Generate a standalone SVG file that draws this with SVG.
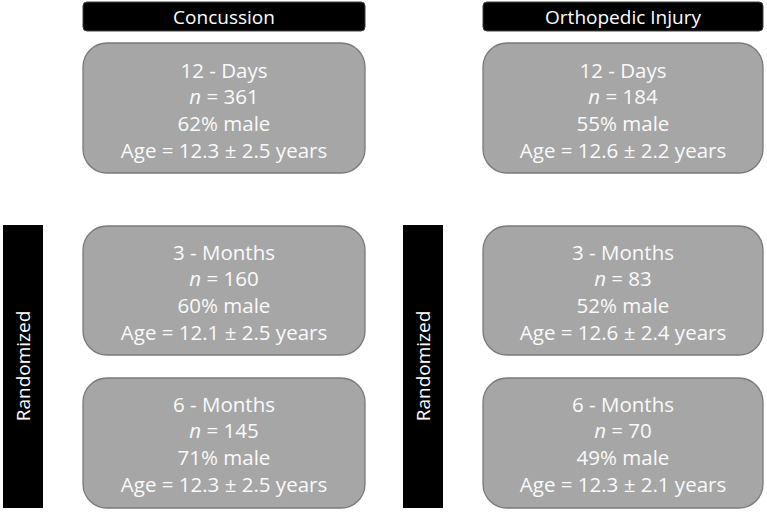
<svg xmlns="http://www.w3.org/2000/svg" width="767" height="512" viewBox="0 0 767 512">
<style>
.hdr{fill:#000;stroke:#404040;stroke-width:1}
.box{fill:#A6A6A6;stroke:#7A7A7A;stroke-width:1.3}
.bar{fill:#000}
text{font-family:"Open Sans","Liberation Sans",sans-serif;fill:#FAFAFA;text-anchor:middle;font-size:20.5px}
.ht{fill:#fff;font-size:19px}
</style>
<rect width="767" height="512" fill="#fff"/>
<g id="hdr-concussion"><rect class="hdr" x="83" y="2" width="282" height="29" rx="4"/><text class="ht" x="224" y="24">Concussion</text></g>
<g id="hdr-ortho"><rect class="hdr" x="483" y="2" width="280" height="29" rx="4"/><text class="ht" x="623" y="24">Orthopedic Injury</text></g>
<g id="rand-left"><rect class="bar" x="3" y="225" width="40" height="283"/><text class="ht" transform="translate(30,366) rotate(-90)">Randomized</text></g>
<g id="rand-right"><rect class="bar" x="403" y="225" width="40" height="283"/><text class="ht" transform="translate(430,366) rotate(-90)">Randomized</text></g>
<g id="c12"><rect class="box" x="83" y="43" width="282" height="130" rx="24"/>
<text x="224" y="78">12 - Days</text><text x="224" y="104"><tspan font-style="italic">n</tspan> = 361</text><text x="224" y="131">62% male</text><text x="224" y="158">Age = 12.3 ± 2.5 years</text></g>
<g id="o12"><rect class="box" x="483" y="43" width="280" height="130" rx="24"/>
<text x="623" y="78">12 - Days</text><text x="623" y="104"><tspan font-style="italic">n</tspan> = 184</text><text x="623" y="131">55% male</text><text x="623" y="158">Age = 12.6 ± 2.2 years</text></g>
<g id="c3"><rect class="box" x="83" y="226" width="282" height="129" rx="24"/>
<text x="224" y="260">3 - Months</text><text x="224" y="286"><tspan font-style="italic">n</tspan> = 160</text><text x="224" y="313">60% male</text><text x="224" y="340">Age = 12.1 ± 2.5 years</text></g>
<g id="o3"><rect class="box" x="483" y="226" width="280" height="129" rx="24"/>
<text x="623" y="260">3 - Months</text><text x="623" y="286"><tspan font-style="italic">n</tspan> = 83</text><text x="623" y="313">52% male</text><text x="623" y="340">Age = 12.6 ± 2.4 years</text></g>
<g id="c6"><rect class="box" x="83" y="378" width="282" height="130" rx="24"/>
<text x="224" y="412">6 - Months</text><text x="224" y="438"><tspan font-style="italic">n</tspan> = 145</text><text x="224" y="465">71% male</text><text x="224" y="492">Age = 12.3 ± 2.5 years</text></g>
<g id="o6"><rect class="box" x="483" y="378" width="280" height="130" rx="24"/>
<text x="623" y="412">6 - Months</text><text x="623" y="438"><tspan font-style="italic">n</tspan> = 70</text><text x="623" y="465">49% male</text><text x="623" y="492">Age = 12.3 ± 2.1 years</text></g>
<g id="connectors"></g>
</svg>
